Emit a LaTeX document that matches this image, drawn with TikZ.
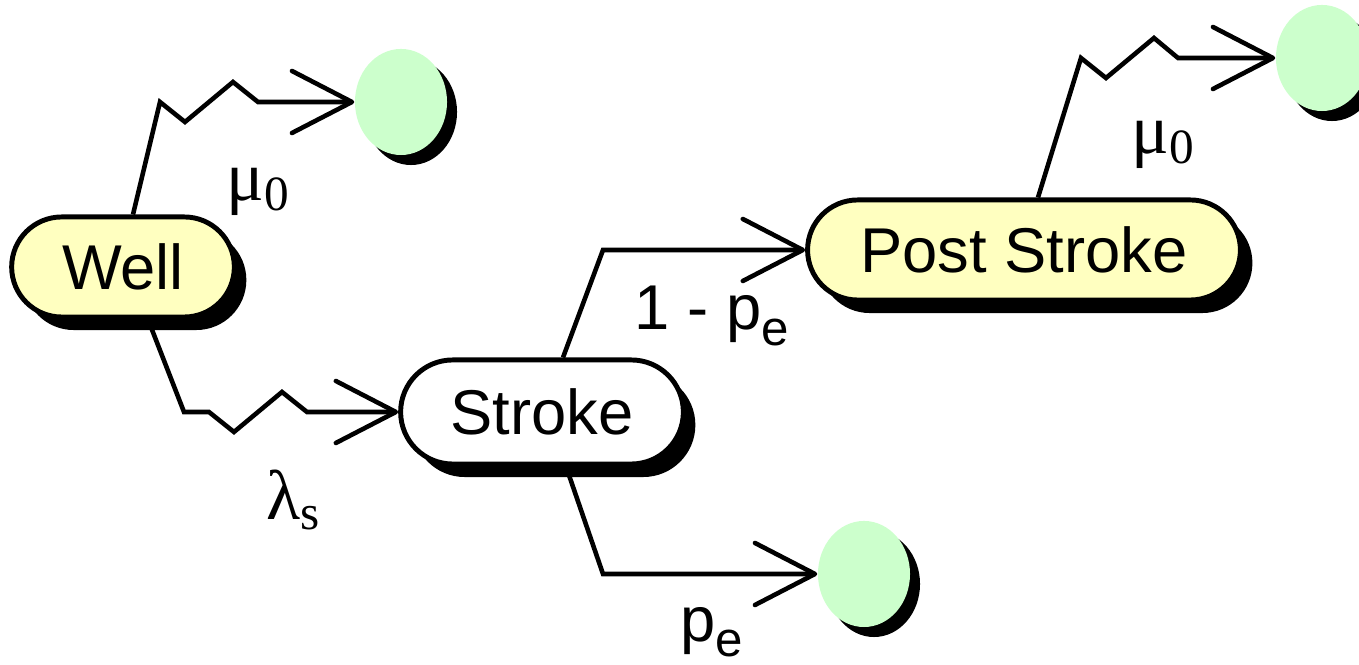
\documentclass[tikz,border=0pt]{standalone}
\usepackage{fontspec}
\setmainfont{Liberation Sans}
\newfontfamily\symfont{Liberation Serif}
\usetikzlibrary{positioning, shapes.misc, shapes.geometric, shadows, arrows.meta, backgrounds}
\definecolor{statefill}{RGB}{255,255,192}
\definecolor{deadfill}{RGB}{204,255,204}
\newcommand{\lowsub}[2][0.3ex]{\raisebox{-#1}{\fontsize{14}{14}\selectfont #2}}
\tikzset{
  state/.style={rounded rectangle, draw, line width=1.4pt, fill=statefill, font=\fontsize{18}{20}\selectfont,
    drop shadow={shadow xshift=0.12cm, shadow yshift=-0.13cm, fill=black, opacity=1}},
  dead/.style={ellipse, fill=deadfill, inner sep=0pt, minimum width=0.92cm, minimum height=1.06cm,
    drop shadow={shadow xshift=0.1cm, shadow yshift=-0.1cm, fill=black, opacity=1}},
  rate/.style={font=\fontsize{18}{20}\selectfont, inner sep=0pt},
  trans/.style={line width=1.3pt, -{Straight Barb[length=0.6cm, width=0.62cm, round]}}
}

\begin{document}
\begin{tikzpicture}[x=0.01cm, y=-0.01cm]
\useasboundingbox (0,0) rectangle (1359,665);

\node[state, minimum width=2.46cm, minimum height=1cm] (well) at (123,267) {Well};
\node[state, fill=white, minimum width=3.06cm, minimum height=1.04cm] (stroke) at (542,412) {Stroke};
\node[state, minimum width=4.56cm, minimum height=1cm] (post) at (1024,250) {Post Stroke};

\node[dead] (dw) at (401,102) {};
\node[dead] (ds) at (864,574) {};
\node[dead] (dp) at (1322,58) {};

\begin{scope}[on background layer]
    \draw[trans] ([xshift=0.1cm]well.north) -- (160,102) -- (185,122) -- (233,82) -- (258,102) -- (dw.west);
    \draw[trans] ([xshift=0.25cm]well.south) -- (184,412) -- (209,412) -- (234,432) -- (282,392) -- (307,412) -- (stroke.west);
    \draw[trans] ([xshift=0.21cm]stroke.north) -- (603,250) -- (post.west);
    \draw[trans] ([xshift=0.24cm]stroke.south) -- (603,574) -- (ds.west);
    \draw[trans] ([xshift=0.14cm]post.north) -- (1081,58) -- (1106,78) -- (1154,38) -- (1178,58) -- (dp.west);
\end{scope}

\node[rate] (muw) at (258,192) {\symfont\fontsize{20}{20}\selectfont μ\lowsub{0}};
\node[rate] (lams) at (293,500) {\symfont\fontsize{20}{20}\selectfont λ\lowsub{s}};
\node[rate] (surv) at (712,316) {1 - p\lowsub[0.45ex]{e}};
\node[rate] (pe) at (712,632) {p\lowsub[0.45ex]{e}};
\node[rate] (mup) at (1163,145) {\symfont\fontsize{20}{20}\selectfont μ\lowsub{0}};
\end{tikzpicture}
\end{document}
